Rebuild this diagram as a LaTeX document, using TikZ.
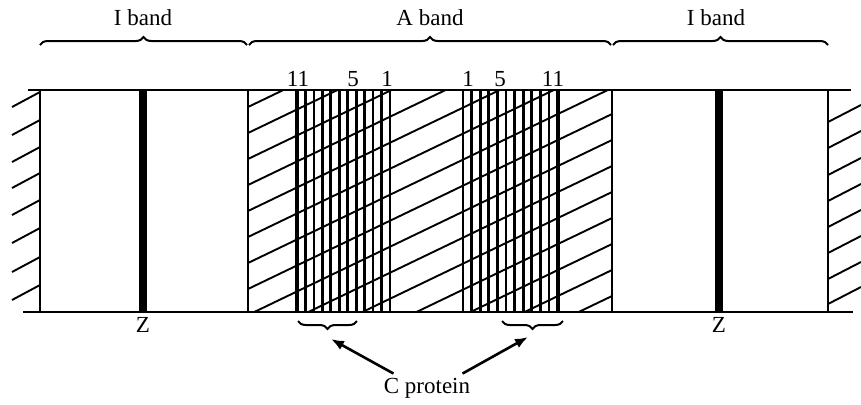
\documentclass[tikz,border=0pt]{standalone}
\usepackage{fontspec}
\setmainfont{Liberation Serif}
\usetikzlibrary{arrows.meta, positioning, calc, decorations.pathreplacing}
\tikzset{
  font=\fontsize{11.5}{13}\selectfont,
  bandline/.style={draw=black, line width=1.1pt},
  zline/.style={draw=black, line width=3.8pt},
  hatchline/.style={draw=black, line width=0.95pt},
  stripeline/.style={draw=black, line width=1.4pt},
  bandbrace/.style={decorate, decoration={brace, amplitude=4pt}, line width=1pt},
  lowbrace/.style={decorate, decoration={brace, amplitude=4pt, mirror}, line width=1pt},
  bandlabel/.style={inner sep=1pt},
  stripelabel/.style={inner sep=0.5pt},
  flowline/.style={draw=black, -{Latex[length=6.5pt, width=5pt]}, line width=1.3pt}
}
\begin{document}
\begin{tikzpicture}[x=0.5pt, y=-0.5pt]
  \useasboundingbox (0,0) rectangle (861,404);

  % Sarcomere outline
  \draw[bandline] (28,90) -- (851,90);
  \draw[bandline] (23,312) -- (853,312);
  \foreach \xb in {40,248,612,828}
    \draw[bandline] (\xb,90) -- (\xb,312);

  % Z lines
  \draw[zline] (143,90) -- (143,312);
  \draw[zline] (719,90) -- (719,312);

  % A band hatching
  \begin{scope}
    \clip (248,90) rectangle (612,312);
    \foreach \k in {-1,...,15}
      \draw[hatchline] (248,107+26*\k) -- ++(364,-175);
  \end{scope}

  % Neighbouring A bands (stubs)
  \foreach \yy in {92,120,147,173,200,228,257,285}
    \draw[hatchline] (40,\yy) -- ++(-28,15);
  \foreach \yy in {122,148,175,201,227,253,279,304}
    \draw[hatchline] (828,\yy) -- ++(33,-17);

  % C protein stripes
  \foreach \i in {0,...,11}
    \draw[stripeline] ({297+8.45*\i},90) -- ++(0,222);
  \foreach \i in {0,...,11}
    \draw[stripeline] ({463+8.6*\i},90) -- ++(0,222);
  \draw[stripeline, line width=1.9pt] (297,90) -- (297,312);
  \draw[stripeline, line width=1.9pt] (558,90) -- (558,312);

  % Stripe numbers
  \node[stripelabel] (numl11) at (298,79) {11};
  \node[stripelabel] (numl5) at (353,79) {5};
  \node[stripelabel] (numl1) at (387,79) {1};
  \node[stripelabel] (numr1) at (468,79) {1};
  \node[stripelabel] (numr5) at (500,79) {5};
  \node[stripelabel] (numr11) at (553,79) {11};

  % Band braces and labels
  \draw[bandbrace] (40,45) -- (247,45);
  \draw[bandbrace] (249,45) -- (611,45);
  \draw[bandbrace] (613,45) -- (828,45);
  \node[bandlabel] (iband_l) at (143,18) {I band};
  \node[bandlabel] (aband) at (430,18) {A band};
  \node[bandlabel] (iband_r) at (716,18) {I band};

  % Z labels
  \node[bandlabel] (zlab_l) at (143,325) {Z};
  \node[bandlabel] (zlab_r) at (719,325) {Z};

  % C protein braces
  \draw[lowbrace] (298,321) -- (357,321);
  \draw[lowbrace] (502,321) -- (563,321);
  \coordinate (ctip_l) at (331,339);
  \coordinate (ctip_r) at (528,337);

  % C protein label and arrows
  \node[bandlabel, inner sep=2pt] (cprot) at (427,388) {C protein};
  \draw[flowline] ([xshift=7pt]cprot.north west) -- (ctip_l);
  \draw[flowline] ([xshift=-6pt]cprot.north east) -- (ctip_r);

\end{tikzpicture}
\end{document}
